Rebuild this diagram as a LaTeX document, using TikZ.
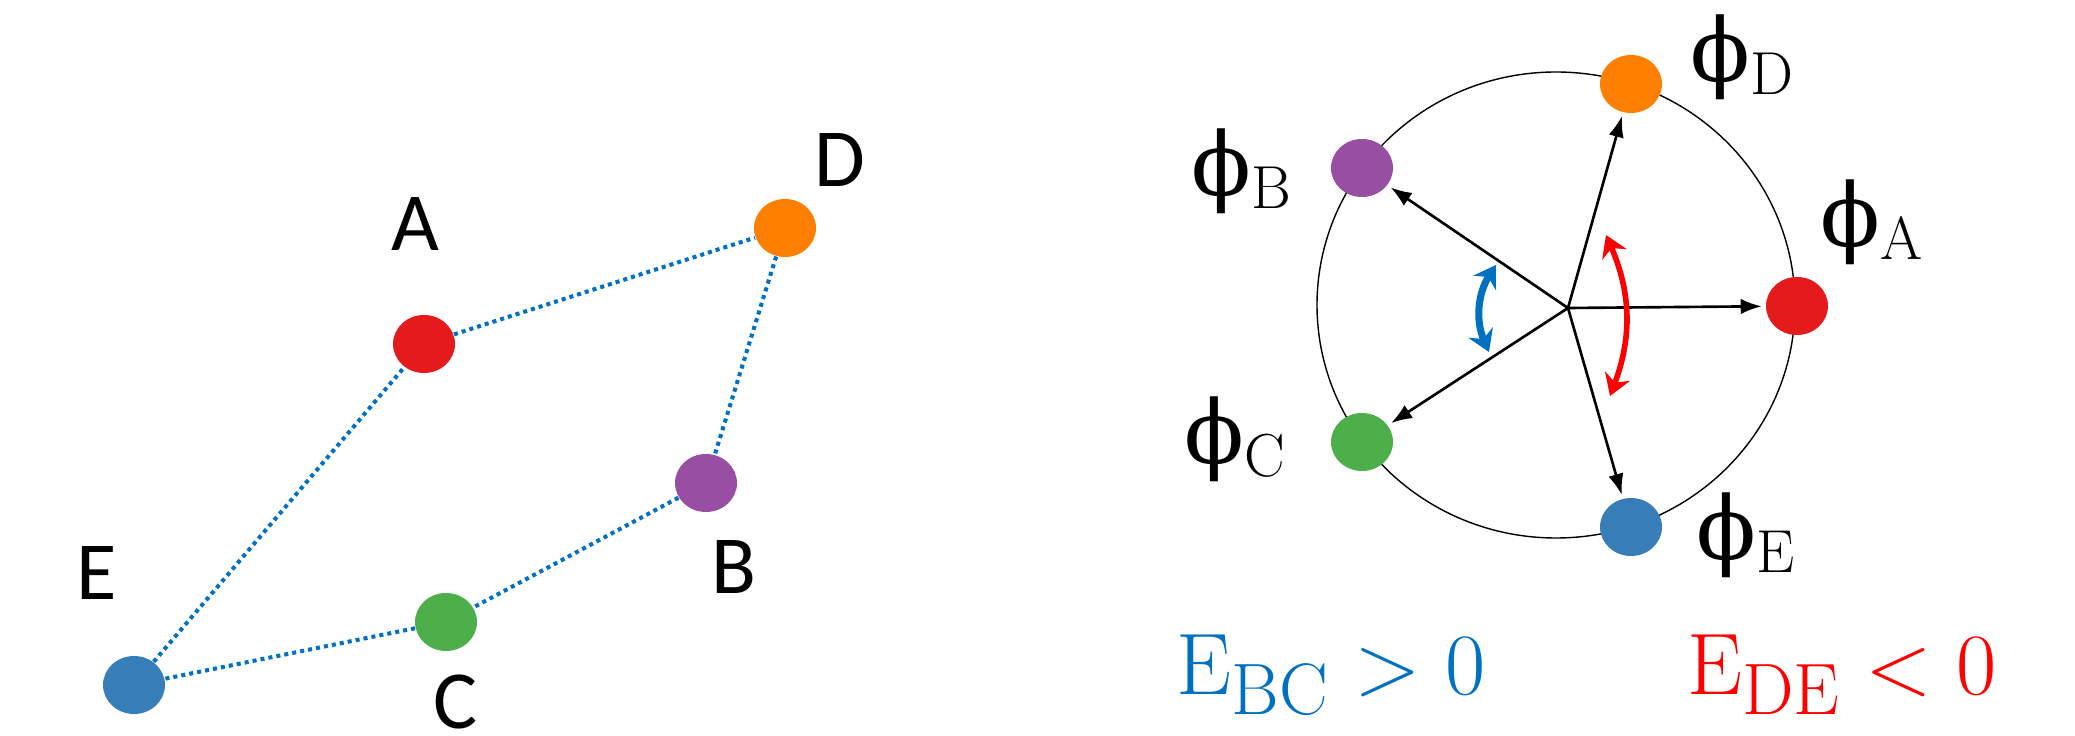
\documentclass[tikz,border=0pt]{standalone}
\usepackage[no-math]{fontspec}
\usepackage{amsmath}
\usetikzlibrary{arrows.meta,shapes.geometric}
\newfontfamily\sitefont{Carlito}
\newfontfamily\phifont{DejaVu Serif}
\definecolor{siteA}{HTML}{E41A1C}
\definecolor{siteB}{HTML}{984EA3}
\definecolor{siteC}{HTML}{4DAF4A}
\definecolor{siteD}{HTML}{FF7F00}
\definecolor{siteE}{HTML}{377EB8}
\definecolor{bondblue}{HTML}{0070C0}
\definecolor{posE}{HTML}{0070C0}
\definecolor{negE}{HTML}{FF0000}

\begin{document}
\begin{tikzpicture}[
  site/.style={ellipse, minimum width=0.62cm, minimum height=0.58cm, inner sep=0pt},
  bond/.style={bondblue, line width=1.15pt, dash pattern=on 1.15pt off 1.15pt},
  vec/.style={-{Latex[length=6pt,width=4.4pt]}, line width=0.75pt, shorten >=1pt},
  swing/.style={{Stealth[length=6pt,width=7.5pt]}-{Stealth[length=6pt,width=7.5pt]}},
  letter/.style={font=\sitefont\fontsize{23.5}{28}\selectfont, inner sep=1pt},
  phase/.style={font=\fontsize{25}{30}\selectfont},
  energy/.style={font=\fontsize{27.5}{33}\selectfont, anchor=base}
]
  \useasboundingbox (0,0) rectangle (20.75,7.36);

  % Real-space sites
  \node[site, fill=siteA] (A) at (4.24,3.92) {};
  \node[site, fill=siteD] (D) at (7.85,5.08) {};
  \node[site, fill=siteB] (B) at (7.06,2.53) {};
  \node[site, fill=siteC] (C) at (4.46,1.14) {};
  \node[site, fill=siteE] (E) at (1.34,0.51) {};

  % Bonds
  \draw[bond] (A) -- (D);
  \draw[bond] (D) -- (B);
  \draw[bond] (B) -- (C);
  \draw[bond] (C) -- (E);
  \draw[bond] (E) -- (A);

  % Site letters
  \node[letter] (labA) at (4.15,5.12) {A};
  \node[letter] (labD) at (8.40,5.76) {D};
  \node[letter] (labB) at (7.34,1.69) {B};
  \node[letter] (labC) at (4.56,0.34) {C};
  \node[letter] (labE) at (0.97,1.63) {E};

  % Phase circle
  \coordinate (O) at (15.68,4.28);
  \draw[line width=0.4pt] (15.56,4.31) ellipse (2.39 and 2.33);

  \node[site, fill=siteA] (pA) at (17.97,4.30) {};
  \node[site, fill=siteD] (pD) at (16.31,6.52) {};
  \node[site, fill=siteB] (pB) at (13.62,5.68) {};
  \node[site, fill=siteC] (pC) at (13.62,2.94) {};
  \node[site, fill=siteE] (pE) at (16.31,2.09) {};

  \draw[vec] (O) -- (pA);
  \draw[vec] (O) -- (pD);
  \draw[vec] (O) -- (pB);
  \draw[vec] (O) -- (pC);
  \draw[vec] (O) -- (pE);

  % Phase labels
  \node[phase] (lA) at (18.72,5.14) {{\phifont ϕ}$_{\mathrm{A}}$};
  \node[phase] (lD) at (17.43,6.79) {{\phifont ϕ}$_{\mathrm{D}}$};
  \node[phase] (lB) at (12.42,5.65) {{\phifont ϕ}$_{\mathrm{B}}$};
  \node[phase] (lC) at (12.36,2.97) {{\phifont ϕ}$_{\mathrm{C}}$};
  \node[phase] (lE) at (17.46,2.01) {{\phifont ϕ}$_{\mathrm{E}}$};

  % Angle swings
  \draw[swing, posE, line width=2pt] (14.89,3.84) to[bend left=28] (14.96,4.71);
  \draw[swing, negE, line width=1.6pt] (16.06,5.01) to[bend left=22] (16.10,3.40);

  % Bond energies
  \node[energy, posE] (EBC) at (13.31,0.41) {$\mathrm{E}_{\mathrm{BC}} > 0$};
  \node[energy, negE] (EDE) at (18.42,0.41) {$\mathrm{E}_{\mathrm{DE}} < 0$};
\end{tikzpicture}
\end{document}
